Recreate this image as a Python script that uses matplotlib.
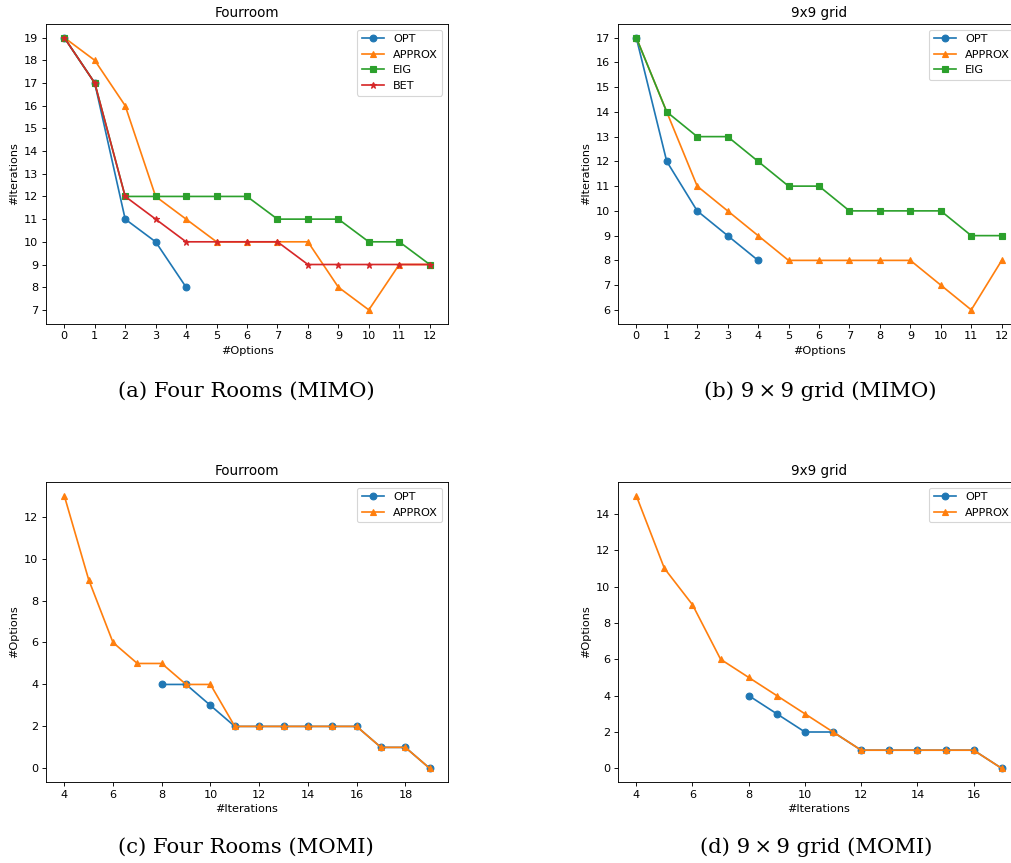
import matplotlib
matplotlib.use("Agg")
import matplotlib.pyplot as plt

W, H = 1011, 863
DPI = 81

# (a) Four Rooms MIMO: #iterations vs #options
a_opt = [19, 17, 11, 10, 8]
a_approx = [19, 18, 16, 12, 11, 10, 10, 10, 10, 8, 7, 9, 9]
a_eig = [19, 17, 12, 12, 12, 12, 12, 11, 11, 11, 10, 10, 9]
a_bet = [19, 17, 12, 11, 10, 10, 10, 10, 9, 9, 9, 9, 9]

# (b) 9x9 grid MIMO
b_opt = [17, 12, 10, 9, 8]
b_approx = [17, 14, 11, 10, 9, 8, 8, 8, 8, 8, 7, 6, 8]
b_eig = [17, 14, 13, 13, 12, 11, 11, 10, 10, 10, 10, 9, 9]

# (c) Four Rooms MOMI: #options vs #iterations
c_opt_x = [8, 9, 10, 11, 12, 13, 14, 15, 16, 17, 18, 19]
c_opt = [4, 4, 3, 2, 2, 2, 2, 2, 2, 1, 1, 0]
c_approx_x = [4, 5, 6, 7, 8, 9, 10, 11, 12, 13, 14, 15, 16, 17, 18, 19]
c_approx = [13, 9, 6, 5, 5, 4, 4, 2, 2, 2, 2, 2, 2, 1, 1, 0]

# (d) 9x9 grid MOMI
d_opt_x = [8, 9, 10, 11, 12, 13, 14, 15, 16, 17]
d_opt = [4, 3, 2, 2, 1, 1, 1, 1, 1, 0]
d_approx_x = [4, 5, 6, 7, 8, 9, 10, 11, 12, 13, 14, 15, 16, 17]
d_approx = [15, 11, 9, 6, 5, 4, 3, 2, 1, 1, 1, 1, 1, 0]

captions = ["(a) Four Rooms (MIMO)", "(b) 9\u2009\u00d7\u20099 grid (MIMO)",
            "(c) Four Rooms (MOMI)", "(d) 9\u2009\u00d7\u20099 grid (MOMI)"]

fig = plt.figure(figsize=(W / DPI, H / DPI), dpi=DPI)


def px_axes(left, top, width, height):
    return fig.add_axes([left / W, 1 - (top + height) / H, width / W, height / H])


ax_a = px_axes(46, 24, 402, 299.5)
ax_b = px_axes(618, 24, 402, 299.5)
ax_c = px_axes(46, 482, 402, 300)
ax_d = px_axes(618, 482, 402, 300)

# top row
ax_a.plot(range(len(a_opt)), a_opt, marker='o', label='OPT')
ax_a.plot(range(len(a_approx)), a_approx, marker='^', label='APPROX')
ax_a.plot(range(len(a_eig)), a_eig, marker='s', label='EIG')
ax_a.plot(range(len(a_bet)), a_bet, marker='*', label='BET')
ax_a.set_xticks(range(len(a_approx)))
ax_a.set_yticks(range(7, 20))
ax_a.set_title('Fourroom')

ax_b.plot(range(len(b_opt)), b_opt, marker='o', label='OPT')
ax_b.plot(range(len(b_approx)), b_approx, marker='^', label='APPROX')
ax_b.plot(range(len(b_eig)), b_eig, marker='s', label='EIG')
ax_b.set_xticks(range(len(b_approx)))
ax_b.set_yticks(range(6, 18))
ax_b.set_title('9x9 grid')

for ax in (ax_a, ax_b):
    ax.set_xlabel('#Options')
    ax.set_ylabel('#Iterations')
    ax.legend(loc='upper right')

# bottom row
ax_c.plot(c_opt_x, c_opt, marker='o', label='OPT')
ax_c.plot(c_approx_x, c_approx, marker='^', label='APPROX')
ax_c.set_title('Fourroom')

ax_d.plot(d_opt_x, d_opt, marker='o', label='OPT')
ax_d.plot(d_approx_x, d_approx, marker='^', label='APPROX')
ax_d.set_title('9x9 grid')

for ax in (ax_c, ax_d):
    ax.set_xlabel('#Iterations')
    ax.set_ylabel('#Options')
    ax.legend(loc='upper right')

# sub-figure captions
for (cx, cy), text in zip([(246, 391), (820, 391), (246, 847), (816, 847)], captions):
    fig.text(cx / W, 1 - cy / H, text, ha='center', va='center',
             family='DejaVu Serif', fontsize=18.8)

fig.savefig('out.png', dpi=DPI)
